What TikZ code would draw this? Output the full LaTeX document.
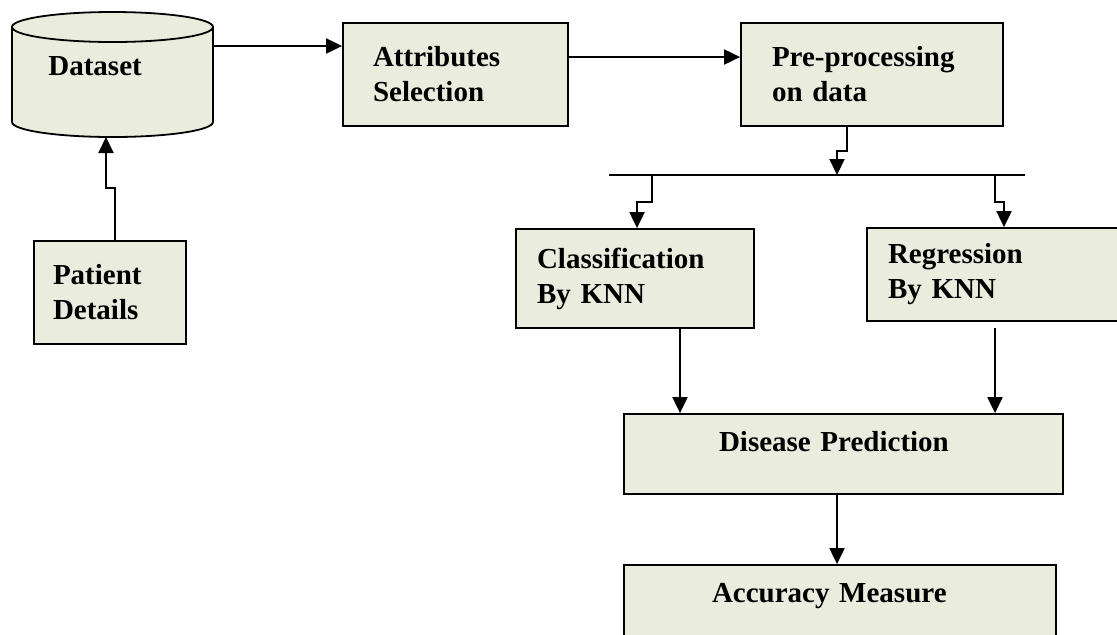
\documentclass[tikz,border=0pt]{standalone}
\usepackage{fontspec}
\setmainfont{Liberation Serif}
\usetikzlibrary{arrows.meta, calc}
\definecolor{BoxFill}{RGB}{234,237,221}

\begin{document}
\begin{tikzpicture}[x=0.5pt, y=-0.5pt,
    txt/.style={font=\fontsize{14.5}{17.5}\selectfont\bfseries},
    box/.style={txt, draw, line width=0.9pt, fill=BoxFill, rectangle, inner xsep=0pt, align=left},
    db/.style={draw, line width=0.9pt, fill=BoxFill},
    arr/.style={-{Triangle[length=8pt,width=7.5pt]}, line width=1pt}]
    \clip (0,0) rectangle (1117,634);

    % Dataset
    \filldraw[db] (12,27) -- (12,122) arc[start angle=180, end angle=360, x radius=50.25pt, y radius=7.5pt]
        -- (213,27) arc[start angle=0, end angle=180, x radius=50.25pt, y radius=7.5pt] -- cycle;
    \draw[db, fill=none] (12,27) arc[start angle=180, end angle=360, x radius=50.25pt, y radius=7.5pt];
    \node[txt, anchor=base west, inner sep=0pt] (dsl) at (48,75) {Dataset};
    \coordinate (dsE) at (213,46);
    \coordinate (dsB) at (106,137);

    % Attributes
    \node[box, minimum width=112.5pt, minimum height=51.5pt, text width=82.5pt] (att) at (455.5,74.5) {Attributes\\Selection};

    % Pre-processing
    \node[box, minimum width=131pt, minimum height=51.5pt, text width=100pt] (pre) at (872,74.5) {Pre-processing\\on data};

    % Patient
    \node[box, minimum width=76pt, minimum height=51.5pt, text width=57pt] (pat) at (110,292.5) {Patient\\Details};

    % KNN boxes
    \node[box, minimum width=119pt, minimum height=49.5pt, text width=98pt] (cls) at (635,278.5) {Classification\\By KNN};
    \node[box, minimum width=157pt, minimum height=46.5pt, text width=136pt] (reg) at (1024,274.5) {Regression\\By KNN};

    % Prediction
    \node[box, minimum width=219.5pt, minimum height=40pt, text width=124.5pt, text depth=13pt] (dis) at (843.5,454) {Disease Prediction};

    % Accuracy
    \node[box, minimum width=216pt, minimum height=47.5pt, text width=128pt, text depth=19.5pt] (acc) at (840,612.5) {Accuracy Measure};

    % bar
    \coordinate (barL) at (609,175);
    \coordinate (barR) at (1025,175);
    \coordinate (tap) at (837,175);
    \coordinate (brCls) at (652,175);
    \coordinate (brReg) at (995,175);
    \draw[line width=1pt] (barL) -- (barR);

    % Arrows
    \draw[arr] (dsE) -- (dsE -| att.west);
    \draw[arr] ([yshift=8.75pt]att.east) -- ([yshift=8.75pt]pre.west);
    \draw[arr] ([xshift=2.5pt]pat.north) -- ++(0,-52) -| (dsB);
    \draw[arr] ([xshift=-12.5pt]pre.south) -- ++(0,24) -| (tap);
    \draw[arr] (brCls) -- ++(0,27) -| ([xshift=1pt]cls.north);
    \draw[arr] (brReg) -- ++(0,27) -| ([xshift=-10pt]reg.north);
    \draw[arr] ([xshift=22.5pt]cls.south) -- ([xshift=22.5pt]cls.south |- dis.north);
    \draw[arr, shorten <=3pt] ([xshift=-14.5pt]reg.south) -- ([xshift=-14.5pt]reg.south |- dis.north);
    \draw[arr] ([xshift=-3.25pt]dis.south) -- ([xshift=-3.25pt]dis.south |- acc.north);
\end{tikzpicture}
\end{document}
